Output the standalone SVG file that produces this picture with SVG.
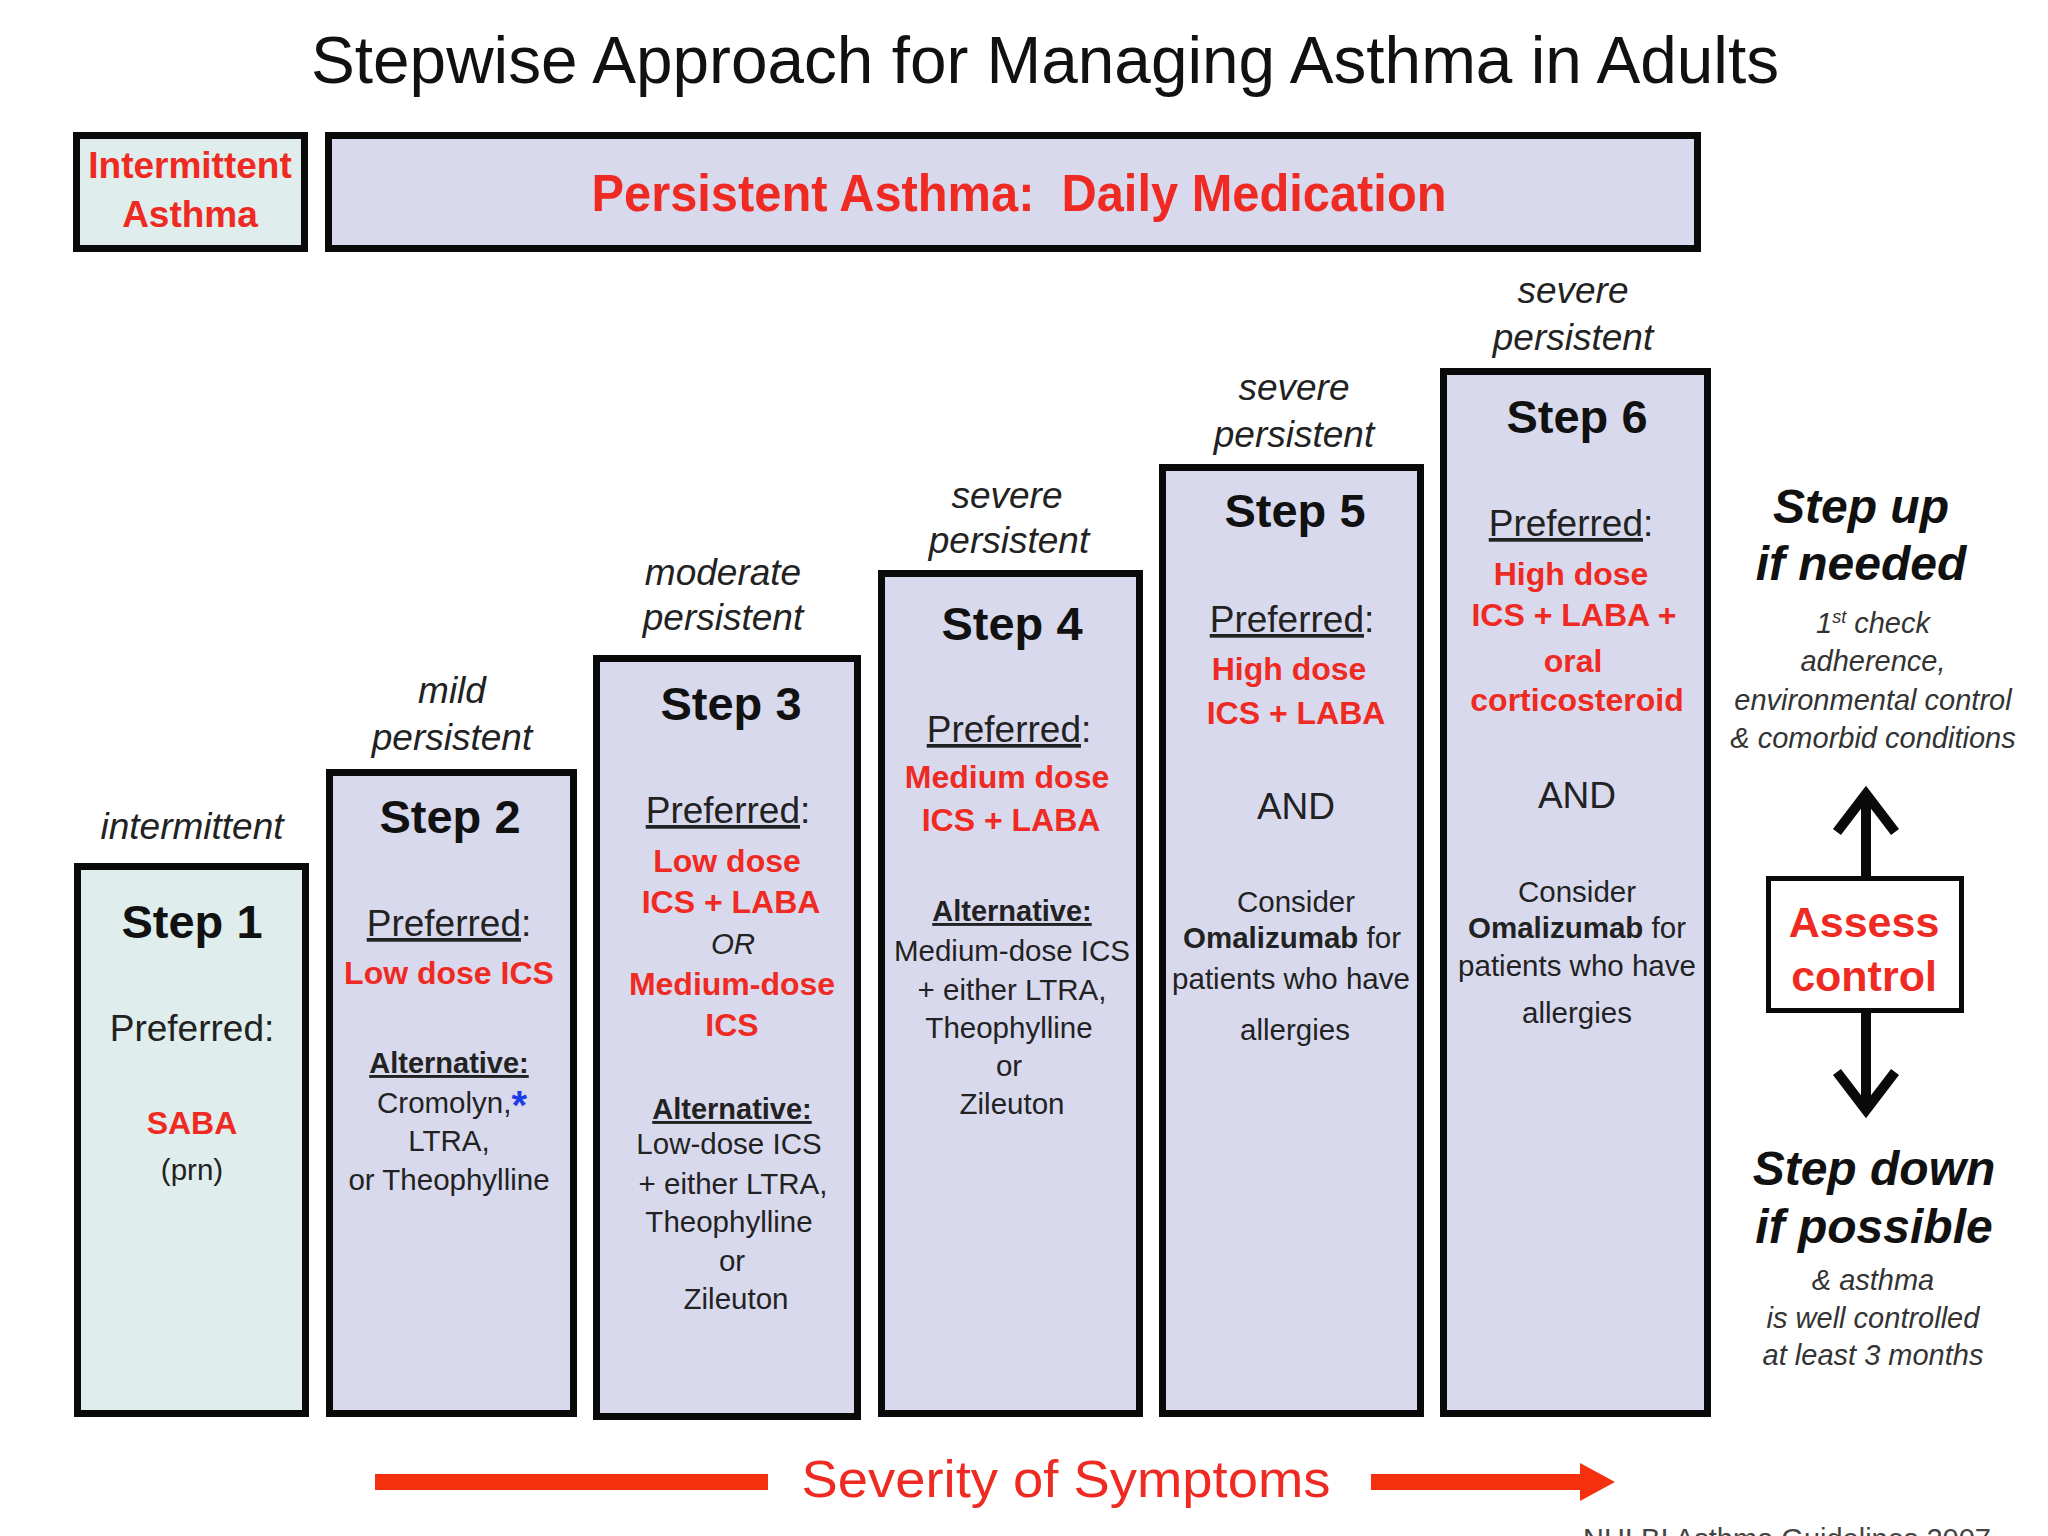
<svg xmlns="http://www.w3.org/2000/svg" width="2048" height="1536" viewBox="0 0 2048 1536">
<style>
text{font-family:"Liberation Sans",Arial,Helvetica,sans-serif;text-anchor:middle}
.box{stroke:#0a0a0a;stroke-width:7}
.lav{fill:#D9D9EE}
.cyan{fill:#DFEDED}
.title{font-size:66px;fill:#111}
.hdr{font-size:37px;font-weight:bold;fill:#EE2A22}
.step{font-size:47px;font-weight:bold;fill:#111}
.lbl{font-size:37px;font-style:italic;fill:#222}
.pref{font-size:37px;fill:#222}
.red{font-size:32px;font-weight:bold;fill:#EE2A22}
.alt{font-size:29px;font-weight:bold;fill:#222}
.body{font-size:29.5px;fill:#222}
.and{font-size:37px;fill:#222}
.big{font-size:48px;font-weight:bold;font-style:italic;fill:#111}
.small{font-size:29px;font-style:italic;fill:#333}
.u{text-decoration:underline}
</style>
<rect width="2048" height="1536" fill="#ffffff"/>
<text class="title" x="1045" y="83" textLength="1468" lengthAdjust="spacingAndGlyphs">Stepwise Approach for Managing Asthma in Adults</text>

<g id="intermittent-asthma">
<rect class="box cyan" x="76.5" y="135.5" width="228" height="113"/>
<text class="hdr" x="190" y="178">Intermittent</text>
<text class="hdr" x="190" y="227">Asthma</text>
</g>

<g id="persistent-asthma">
<rect class="box lav" x="328.5" y="135.5" width="1369" height="113"/>
<text x="1019" y="211" font-size="52" font-weight="bold" fill="#EE2A22" textLength="855" lengthAdjust="spacingAndGlyphs">Persistent Asthma:&#160; Daily Medication</text>
</g>

<g id="step1">
<text class="lbl" x="192" y="839">intermittent</text>
<rect class="box cyan" x="77.5" y="866.5" width="228" height="547"/>
<text class="step" x="192" y="938">Step 1</text>
<text class="pref" x="192" y="1041">Preferred:</text>
<text class="red" x="192" y="1134">SABA</text>
<text class="body" x="192" y="1180" font-size="31">(prn)</text>
</g>

<g id="step2">
<text class="lbl" x="452" y="703">mild</text>
<text class="lbl" x="452" y="750">persistent</text>
<rect class="box lav" x="329.5" y="772.5" width="244" height="641"/>
<text class="step" x="450" y="833">Step 2</text>
<text class="pref" x="449" y="936"><tspan class="u">Preferred</tspan>:</text>
<text class="red" x="449" y="984">Low dose ICS</text>
<text class="alt" x="449" y="1073"><tspan class="u">Alternative:</tspan></text>
<text class="body" x="452" y="1113">Cromolyn,<tspan font-size="40" font-weight="bold" fill="#1E3CE6" dy="6">*</tspan></text>
<text class="body" x="449" y="1151">LTRA,</text>
<text class="body" x="449" y="1190">or Theophylline</text>
</g>

<g id="step3">
<text class="lbl" x="723" y="585">moderate</text>
<text class="lbl" x="723" y="630">persistent</text>
<rect class="box lav" x="596.5" y="658.5" width="261" height="758"/>
<text class="step" x="731" y="720">Step 3</text>
<text class="pref" x="728" y="823"><tspan class="u">Preferred</tspan>:</text>
<text class="red" x="727" y="872">Low dose</text>
<text class="red" x="731" y="913">ICS + LABA</text>
<text class="body" x="733" y="954" font-style="italic">OR</text>
<text class="red" x="732" y="995">Medium-dose</text>
<text class="red" x="732" y="1036">ICS</text>
<text class="alt" x="732" y="1119"><tspan class="u">Alternative:</tspan></text>
<text class="body" x="729" y="1154">Low-dose ICS</text>
<text class="body" x="733" y="1194">+ either LTRA,</text>
<text class="body" x="729" y="1232">Theophylline</text>
<text class="body" x="732" y="1271">or</text>
<text class="body" x="736" y="1309">Zileuton</text>
</g>

<g id="step4">
<text class="lbl" x="1007" y="508">severe</text>
<text class="lbl" x="1009" y="553">persistent</text>
<rect class="box lav" x="881.5" y="573.5" width="258" height="840"/>
<text class="step" x="1012" y="640">Step 4</text>
<text class="pref" x="1009" y="742"><tspan class="u">Preferred</tspan>:</text>
<text class="red" x="1007" y="788">Medium dose</text>
<text class="red" x="1011" y="831">ICS + LABA</text>
<text class="alt" x="1012" y="921"><tspan class="u">Alternative:</tspan></text>
<text class="body" x="1012" y="961">Medium-dose ICS</text>
<text class="body" x="1012" y="1000">+ either LTRA,</text>
<text class="body" x="1009" y="1038">Theophylline</text>
<text class="body" x="1009" y="1076">or</text>
<text class="body" x="1012" y="1114">Zileuton</text>
</g>

<g id="step5">
<text class="lbl" x="1294" y="400">severe</text>
<text class="lbl" x="1294" y="447">persistent</text>
<rect class="box lav" x="1162.5" y="467.5" width="258" height="946"/>
<text class="step" x="1295" y="527">Step 5</text>
<text class="pref" x="1292" y="632"><tspan class="u">Preferred</tspan>:</text>
<text class="red" x="1289" y="680">High dose</text>
<text class="red" x="1296" y="724">ICS + LABA</text>
<text class="and" x="1296" y="819">AND</text>
<text class="body" x="1296" y="912">Consider</text>
<text class="body" x="1292" y="948"><tspan font-weight="bold">Omalizumab</tspan> for</text>
<text class="body" x="1291" y="989">patients who have</text>
<text class="body" x="1295" y="1040">allergies</text>
</g>

<g id="step6">
<text class="lbl" x="1573" y="303">severe</text>
<text class="lbl" x="1573" y="350">persistent</text>
<rect class="box lav" x="1443.5" y="371.5" width="264" height="1042"/>
<text class="step" x="1577" y="433">Step 6</text>
<text class="pref" x="1571" y="536"><tspan class="u">Preferred</tspan>:</text>
<text class="red" x="1571" y="585">High dose</text>
<text class="red" x="1574" y="626">ICS + LABA +</text>
<text class="red" x="1573" y="672">oral</text>
<text class="red" x="1577" y="711">corticosteroid</text>
<text class="and" x="1577" y="808">AND</text>
<text class="body" x="1577" y="902">Consider</text>
<text class="body" x="1577" y="938"><tspan font-weight="bold">Omalizumab</tspan> for</text>
<text class="body" x="1577" y="976">patients who have</text>
<text class="body" x="1577" y="1023">allergies</text>
</g>

<g id="step-up">
<text class="big" x="1861" y="523">Step up</text>
<text class="big" x="1861" y="580">if needed</text>
<text class="small" x="1873" y="633">1<tspan font-size="18" dy="-10">st</tspan><tspan dy="10"> check</tspan></text>
<text class="small" x="1873" y="671">adherence,</text>
<text class="small" x="1873" y="710">environmental control</text>
<text class="small" x="1873" y="748">&amp; comorbid conditions</text>
</g>

<g id="assess-control">
<rect x="1768.5" y="878.5" width="193" height="132" fill="#ffffff" stroke="#0a0a0a" stroke-width="5"/>
<text x="1864" y="937" font-size="43" font-weight="bold" fill="#EE2A22">Assess</text>
<text x="1864" y="991" font-size="43" font-weight="bold" fill="#EE2A22">control</text>
</g>

<g id="step-down">
<text class="big" x="1874" y="1185">Step down</text>
<text class="big" x="1874" y="1243">if possible</text>
<text class="small" x="1873" y="1290">&amp; asthma</text>
<text class="small" x="1873" y="1328">is well controlled</text>
<text class="small" x="1873" y="1365">at least 3 months</text>
</g>

<g id="severity">
<text x="1066" y="1497" font-size="52" fill="#EE2A22" textLength="529" lengthAdjust="spacingAndGlyphs">Severity of Symptoms</text>
</g>

<text x="1787" y="1549" font-size="29" fill="#444">NHLBI Asthma Guidelines 2007</text>

<g id="connectors" fill="none" stroke="#0a0a0a" stroke-width="10">
<path d="M1866 876 V794"/>
<path d="M1840 828 L1866 794 L1892 828" stroke-linecap="square"/>
<path d="M1866 1013 V1110"/>
<path d="M1840 1076 L1866 1110 L1892 1076" stroke-linecap="square"/>
<g stroke="none" fill="#F4300E">
<rect x="375" y="1474" width="393" height="16"/>
<path d="M1371 1474 H1580 V1463 L1615 1482 L1580 1501 V1490 H1371 Z"/>
</g>
</g>
</svg>
